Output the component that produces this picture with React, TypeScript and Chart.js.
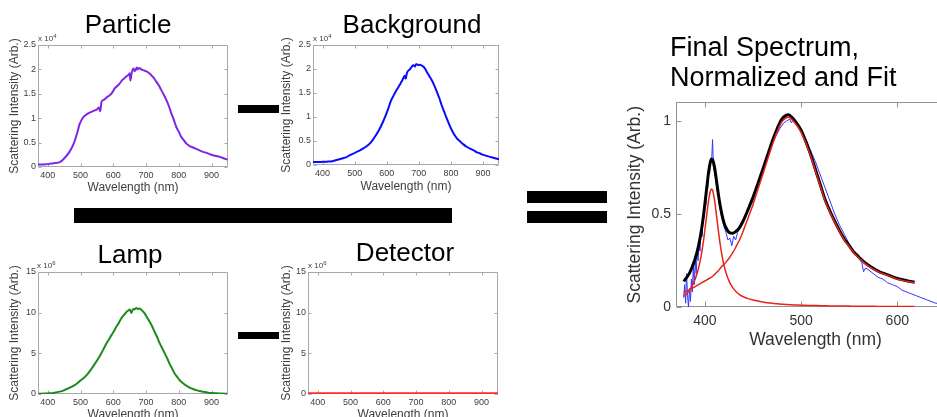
import React, { useEffect, useRef } from "react";
import { Chart, registerables } from "chart.js";

Chart.register(...registerables);

const FONT = "'Liberation Sans', Arial, Helvetica, sans-serif";
Chart.defaults.font.family = FONT;

// ---------- tick labels ----------
const smallXTicks = [400, 500, 600, 700, 800, 900];
const bgYTicks = [0, 0.5, 1, 1.5, 2, 2.5];
const lampYTicks = [0, 5, 10, 15];
const finalXTicks = [400, 500, 600];
const finalYTicks = [0, 0.5, 1];

// ---------- Particle (x 10^4) ----------
const particleWl = [370, 380, 395, 410, 421, 436, 446, 456, 467, 479, 489, 497, 507, 515, 523, 533, 543, 550, 556, 560, 564, 572, 580, 589, 597, 604, 612, 619, 627, 634, 640, 645, 650, 652, 656, 662, 665, 668, 672, 675, 680, 685, 693, 701, 708, 716, 724, 731, 739, 746, 754, 762, 770, 777, 785, 792, 800, 807, 815, 823, 833, 843, 853, 863, 874, 884, 894, 904, 914, 924, 936, 948];
const particleVal = [0.05, 0.05, 0.055, 0.07, 0.08, 0.1, 0.15, 0.22, 0.32, 0.48, 0.68, 0.88, 1.01, 1.06, 1.1, 1.13, 1.16, 1.18, 1.22, 1.14, 1.34, 1.38, 1.43, 1.47, 1.53, 1.61, 1.66, 1.71, 1.78, 1.82, 1.86, 1.88, 1.92, 1.77, 1.93, 2.02, 1.96, 1.99, 2.04, 2.0, 2.03, 2.0, 1.98, 1.96, 1.93, 1.88, 1.82, 1.75, 1.67, 1.58, 1.48, 1.37, 1.24, 1.1, 0.96, 0.82, 0.72, 0.62, 0.55, 0.48, 0.43, 0.4, 0.37, 0.34, 0.31, 0.29, 0.265, 0.24, 0.225, 0.21, 0.18, 0.15];

// ---------- Background (x 10^4) ----------
const bgWl = [370, 395, 414, 430, 441, 452, 463, 473, 484, 494, 505, 515, 525, 535, 546, 556, 566, 576, 587, 597, 605, 612, 620, 628, 636, 643, 648, 653, 656, 659, 663, 668, 673, 678, 683, 688, 691, 694, 699, 704, 709, 714, 720, 725, 732, 740, 748, 756, 764, 771, 779, 787, 797, 808, 818, 829, 839, 849, 860, 870, 880, 891, 901, 911, 922, 932, 941, 950];
const bgVal = [0.06, 0.065, 0.07, 0.08, 0.1, 0.12, 0.14, 0.16, 0.2, 0.23, 0.27, 0.3, 0.34, 0.38, 0.44, 0.52, 0.62, 0.73, 0.88, 1.04, 1.18, 1.32, 1.43, 1.53, 1.62, 1.7, 1.76, 1.83, 1.86, 1.8, 1.92, 1.97, 2.0, 2.05, 2.08, 2.05, 2.1, 2.1, 2.08, 2.09, 2.07, 2.05, 2.0, 1.94, 1.86, 1.77, 1.66, 1.53, 1.39, 1.25, 1.11, 0.97, 0.81, 0.66, 0.56, 0.49, 0.43, 0.38, 0.34, 0.31, 0.27, 0.24, 0.21, 0.19, 0.17, 0.15, 0.135, 0.12];

// ---------- Lamp (x 10^6) ----------
const lampWl = [370, 390, 406, 420, 436, 449, 462, 472, 482, 492, 502, 513, 523, 533, 543, 553, 563, 571, 579, 587, 594, 602, 609, 617, 624, 632, 640, 645, 650, 655, 660, 665, 670, 675, 680, 688, 696, 703, 711, 719, 726, 734, 741, 749, 757, 765, 772, 780, 787, 795, 802, 812, 823, 833, 843, 853, 863, 876, 889, 901, 914, 931, 948];
const lampVal = [0.03, 0.05, 0.08, 0.16, 0.29, 0.45, 0.69, 0.88, 1.1, 1.38, 1.72, 2.1, 2.53, 3.08, 3.68, 4.3, 4.99, 5.6, 6.21, 6.72, 7.23, 7.74, 8.26, 8.77, 9.28, 9.7, 10.09, 10.25, 10.38, 9.97, 10.46, 10.4, 10.58, 10.45, 10.5, 10.25, 9.89, 9.4, 8.87, 8.27, 7.64, 6.97, 6.29, 5.63, 4.99, 4.33, 3.68, 3.08, 2.53, 2.1, 1.72, 1.35, 1.02, 0.79, 0.61, 0.48, 0.37, 0.26, 0.16, 0.11, 0.08, 0.05, 0.04];

// ---------- Detector (x 10^6) ----------
const detWl = [370, 500, 650, 800, 950];
const detVal = [0.08, 0.08, 0.08, 0.08, 0.08];

// ---------- Final spectrum: measured data ----------
const dataWl = [378, 379, 380, 381, 382, 383, 384, 385, 386, 387, 388, 389, 390, 391, 392, 393, 394, 395, 396, 397, 398, 399, 400, 401, 402, 403, 404, 405, 406, 407, 408, 409, 410, 411, 412, 413, 414, 415, 416, 418, 420, 422, 424, 426, 428, 430, 432, 434, 436, 438, 440, 443, 446, 450, 454, 458, 462, 466, 470, 474, 478, 482, 485, 488, 490, 492, 495, 498, 502, 506, 510, 515, 520, 525, 530, 535, 540, 545, 550, 555, 560, 563, 565, 567, 570, 575, 580, 585, 590, 595, 600, 605, 610, 615, 620, 625, 630, 635, 640, 645, 650, 655, 660];
const dataVal = [0.05, 0.12, 0.02, 0.18, 0.06, 0.0, 0.1, 0.03, 0.15, 0.08, 0.22, 0.12, 0.25, 0.18, 0.3, 0.25, 0.35, 0.3, 0.42, 0.38, 0.5, 0.48, 0.58, 0.55, 0.66, 0.64, 0.75, 0.72, 0.8, 0.78, 0.9, 0.74, 0.76, 0.7, 0.66, 0.62, 0.6, 0.55, 0.52, 0.47, 0.43, 0.4, 0.36, 0.37, 0.33, 0.38, 0.36, 0.4, 0.42, 0.44, 0.47, 0.5, 0.55, 0.6, 0.65, 0.71, 0.77, 0.82, 0.88, 0.92, 0.96, 0.99, 1.0, 1.01, 0.99, 1.01, 0.99, 0.97, 0.93, 0.89, 0.84, 0.78, 0.71, 0.64, 0.57, 0.5, 0.44, 0.39, 0.34, 0.3, 0.26, 0.24, 0.19, 0.21, 0.2, 0.18, 0.16, 0.15, 0.13, 0.12, 0.11, 0.09, 0.08, 0.07, 0.06, 0.05, 0.04, 0.03, 0.02, 0.02, 0.01, 0.01, 0.0];

// ---------- Final spectrum: fit and components ----------
const fitWl = [378, 381, 384, 387, 390, 393, 396, 399, 402, 404, 406, 407, 408, 410, 412, 414, 416, 418, 420, 423, 426, 429, 432, 436, 440, 445, 450, 455, 460, 465, 470, 475, 480, 484, 487, 490, 495, 500, 505, 510, 515, 520, 525, 530, 535, 540, 545, 550, 555, 560, 565, 570, 580, 590, 600, 610, 618];
const peak1Val = [0.058, 0.072, 0.09, 0.117, 0.151, 0.2, 0.271, 0.372, 0.497, 0.577, 0.628, 0.635, 0.628, 0.577, 0.497, 0.412, 0.335, 0.271, 0.221, 0.168, 0.13, 0.104, 0.085, 0.067, 0.055, 0.045, 0.038, 0.032, 0.027, 0.023, 0.02, 0.017, 0.015, 0.014, 0.013, 0.012, 0.011, 0.01, 0.009, 0.008, 0.008, 0.007, 0.007, 0.006, 0.006, 0.005, 0.005, 0.005, 0.004, 0.004, 0.004, 0.004, 0.003, 0.003, 0.003, 0.003, 0.003];
const peak2Val = [0.08, 0.086, 0.092, 0.101, 0.11, 0.119, 0.128, 0.137, 0.146, 0.152, 0.158, 0.161, 0.164, 0.175, 0.185, 0.195, 0.208, 0.22, 0.23, 0.248, 0.268, 0.292, 0.32, 0.36, 0.41, 0.48, 0.55, 0.63, 0.71, 0.79, 0.87, 0.94, 0.995, 1.015, 1.02, 1.01, 0.98, 0.94, 0.88, 0.81, 0.73, 0.65, 0.57, 0.51, 0.455, 0.405, 0.36, 0.325, 0.29, 0.265, 0.24, 0.22, 0.19, 0.17, 0.15, 0.138, 0.13];
const fitVal = [0.138, 0.158, 0.182, 0.218, 0.261, 0.319, 0.399, 0.509, 0.643, 0.729, 0.786, 0.796, 0.792, 0.752, 0.682, 0.607, 0.543, 0.491, 0.451, 0.416, 0.398, 0.396, 0.405, 0.427, 0.465, 0.525, 0.588, 0.662, 0.737, 0.813, 0.89, 0.957, 1.01, 1.029, 1.033, 1.022, 0.991, 0.95, 0.889, 0.818, 0.738, 0.657, 0.577, 0.516, 0.461, 0.41, 0.365, 0.33, 0.294, 0.269, 0.244, 0.224, 0.193, 0.173, 0.153, 0.141, 0.133];

const pts = (xs: number[], ys: number[]) => xs.map((x, i) => ({ x, y: ys[i] }));

function makeBox(color: string, len: number) {
  return {
    id: "mbox",
    beforeDatasetsDraw(chart: any) {
      const { ctx, chartArea: a } = chart;
      const xs = chart.scales.x;
      const ys = chart.scales.y;
      ctx.save();
      ctx.strokeStyle = color;
      ctx.lineWidth = 1;
      const L = Math.round(a.left) + 0.5;
      const R = Math.round(a.right) - 0.5;
      const T = Math.round(a.top) + 0.5;
      const B = Math.round(a.bottom) - 0.5;
      ctx.beginPath();
      ctx.rect(L, T, R - L, B - T);
      xs.ticks.forEach((t: any) => {
        const p = Math.round(xs.getPixelForValue(t.value)) + 0.5;
        ctx.moveTo(p, B);
        ctx.lineTo(p, B - len);
        ctx.moveTo(p, T);
        ctx.lineTo(p, T + len);
      });
      ys.ticks.forEach((t: any) => {
        const p = Math.round(ys.getPixelForValue(t.value)) + 0.5;
        ctx.moveTo(L, p);
        ctx.lineTo(L + len, p);
        ctx.moveTo(R, p);
        ctx.lineTo(R - len, p);
      });
      ctx.stroke();
      ctx.restore();
    },
  };
}

type PlotProps = {
  left: number;
  top: number;
  width: number;
  height: number;
  yWidth: number;
  xHeight: number;
  xMin: number;
  xMax: number;
  yMin: number;
  yMax: number;
  xTicks: number[];
  yTicks: number[];
  datasets: any[];
  tickSize: number;
  titleSize: number;
  yTitlePad: number;
  xTitlePad: number;
  yTickPad: number;
  xTickPad: number;
  tickLen: number;
  boxColor: string;
  textColor: string;
};

function Plot(p: PlotProps) {
  const ref = useRef<HTMLCanvasElement | null>(null);
  useEffect(() => {
    if (!ref.current) return;
    const chart = new Chart(ref.current, {
      type: "line",
      data: { datasets: p.datasets },
      options: {
        animation: false,
        responsive: false,
        maintainAspectRatio: false,
        events: [],
        layout: { padding: { top: 10, right: 10, left: 0, bottom: 0 } },
        plugins: { legend: { display: false }, tooltip: { enabled: false } },
        elements: { point: { radius: 0 } },
        scales: {
          x: {
            type: "linear",
            min: p.xMin,
            max: p.xMax,
            afterBuildTicks: (s: any) => {
              s.ticks = p.xTicks.map((v) => ({ value: v }));
            },
            afterFit: (s: any) => {
              s.height = p.xHeight;
            },
            grid: { display: false, drawTicks: false },
            border: { display: false },
            ticks: {
              autoSkip: false,
              maxRotation: 0,
              minRotation: 0,
              padding: p.xTickPad,
              color: p.textColor,
              font: { size: p.tickSize, family: FONT },
              callback: (v: any) => String(v),
            },
            title: {
              display: true,
              text: "Wavelength (nm)",
              color: p.textColor,
              font: { size: p.titleSize, family: FONT },
              padding: { top: 0, bottom: p.xTitlePad },
            },
          },
          y: {
            type: "linear",
            min: p.yMin,
            max: p.yMax,
            afterBuildTicks: (s: any) => {
              s.ticks = p.yTicks.map((v) => ({ value: v }));
            },
            afterFit: (s: any) => {
              s.width = p.yWidth;
            },
            grid: { display: false, drawTicks: false },
            border: { display: false },
            ticks: {
              autoSkip: false,
              padding: p.yTickPad,
              color: p.textColor,
              font: { size: p.tickSize, family: FONT },
              callback: (v: any) => String(v),
            },
            title: {
              display: true,
              text: "Scattering Intensity (Arb.)",
              color: p.textColor,
              font: { size: p.titleSize, family: FONT },
              padding: { top: p.yTitlePad, bottom: 0 },
            },
          },
        },
      } as any,
      plugins: [makeBox(p.boxColor, p.tickLen)],
    });
    return () => chart.destroy();
  }, []);
  return (
    <canvas
      ref={ref}
      width={p.width}
      height={p.height}
      style={{ position: "absolute", left: p.left, top: p.top, width: p.width, height: p.height }}
    />
  );
}

const line = (xs: number[], ys: number[], color: string, w: number, smooth = true) => ({
  data: pts(xs, ys),
  borderColor: color,
  backgroundColor: color,
  borderWidth: w,
  pointRadius: 0,
  fill: false,
  cubicInterpolationMode: smooth ? "monotone" : "default",
  tension: 0,
});

const smallCommon = {
  xMin: 370,
  xMax: 950,
  xTicks: smallXTicks,
  tickSize: 9,
  titleSize: 12,
  yTickPad: 2,
  xTickPad: 3,
  tickLen: 3,
  boxColor: "#a8a8a8",
  textColor: "#404040",
};

const bigTitle: React.CSSProperties = {
  position: "absolute",
  fontFamily: FONT,
  fontSize: 26,
  lineHeight: "26px",
  color: "#000",
  whiteSpace: "nowrap",
  textAlign: "center",
  width: 200,
};

const expo: React.CSSProperties = {
  position: "absolute",
  fontFamily: FONT,
  fontSize: 8,
  lineHeight: "10px",
  color: "#404040",
  whiteSpace: "nowrap",
};

const bar = (left: number, top: number, width: number, height: number): React.CSSProperties => ({
  position: "absolute",
  left,
  top,
  width,
  height,
  background: "#000",
});

function Expo({ left, top, p }: { left: number; top: number; p: string }) {
  return (
    <div style={{ ...expo, left, top }}>
      x 10<span style={{ fontSize: 6, position: "relative", top: -3 }}>{p}</span>
    </div>
  );
}

export default function App() {
  return (
    <div
      style={{
        position: "fixed",
        left: 0,
        top: 0,
        width: 937,
        height: 417,
        overflow: "hidden",
        background: "#fff",
      }}
    >
      <Plot
        {...smallCommon}
        left={0}
        top={35}
        width={238}
        height={165}
        yWidth={38}
        xHeight={33}
        yMin={0}
        yMax={2.5}
        yTicks={bgYTicks}
        yTitlePad={7.8}
        xTitlePad={4.8}
        datasets={[line(particleWl, particleVal, "#7f26e6", 2)]}
      />
      <Plot
        {...smallCommon}
        left={275}
        top={35}
        width={234}
        height={165}
        yWidth={38}
        xHeight={35}
        yMin={0}
        yMax={2.5}
        yTicks={bgYTicks}
        yTitlePad={4.8}
        xTitlePad={5.8}
        datasets={[line(bgWl, bgVal, "#0a0aff", 2)]}
      />
      <Plot
        {...smallCommon}
        left={0}
        top={262}
        width={238}
        height={165}
        yWidth={38}
        xHeight={33}
        yMin={0}
        yMax={15}
        yTicks={lampYTicks}
        yTitlePad={7.8}
        xTitlePad={4.8}
        datasets={[line(lampWl, lampVal, "#1e8a1e", 2)]}
      />
      <Plot
        {...smallCommon}
        left={274}
        top={262}
        width={234}
        height={165}
        yWidth={34}
        xHeight={33}
        yMin={0}
        yMax={15}
        yTicks={lampYTicks}
        yTitlePad={5.5}
        xTitlePad={4.8}
        datasets={[line(detWl, detVal, "#ff2a2a", 2)]}
      />
      <Plot
        left={615}
        top={89}
        width={350}
        height={267}
        yWidth={61}
        xHeight={49}
        xMin={370}
        xMax={660}
        yMin={0}
        yMax={1.1}
        xTicks={finalXTicks}
        yTicks={finalYTicks}
        tickSize={14}
        titleSize={17.5}
        yTitlePad={9.5}
        xTitlePad={5.5}
        yTickPad={5}
        xTickPad={6}
        tickLen={5}
        boxColor="#909090"
        textColor="#333333"
        datasets={[
          line(fitWl, peak1Val, "#e8231a", 1.5),
          line(fitWl, peak2Val, "#e8231a", 1.5),
          line(fitWl, fitVal, "#000000", 3),
          line(dataWl, dataVal, "#3535ff", 1, false),
        ]}
      />

      <Expo left={38} top={34} p="4" />
      <Expo left={313} top={34} p="4" />
      <Expo left={37} top={261} p="6" />
      <Expo left={308} top={261} p="6" />

      <div style={{ ...bigTitle, left: 28, top: 11 }}>Particle</div>
      <div style={{ ...bigTitle, left: 312, top: 11 }}>Background</div>
      <div style={{ ...bigTitle, left: 30, top: 241 }}>Lamp</div>
      <div style={{ ...bigTitle, left: 305, top: 239 }}>Detector</div>
      <div
        style={{
          position: "absolute",
          left: 670,
          top: 32,
          fontFamily: FONT,
          fontSize: 27,
          lineHeight: "30px",
          color: "#000",
          whiteSpace: "nowrap",
        }}
      >
        Final Spectrum,
        <br />
        Normalized and Fit
      </div>

      <div style={bar(238, 105, 41, 8)} />
      <div style={bar(238, 332, 41, 7)} />
      <div style={bar(74, 208, 378, 15)} />
      <div style={bar(527, 191, 80, 12)} />
      <div style={bar(527, 211, 80, 12)} />
    </div>
  );
}
